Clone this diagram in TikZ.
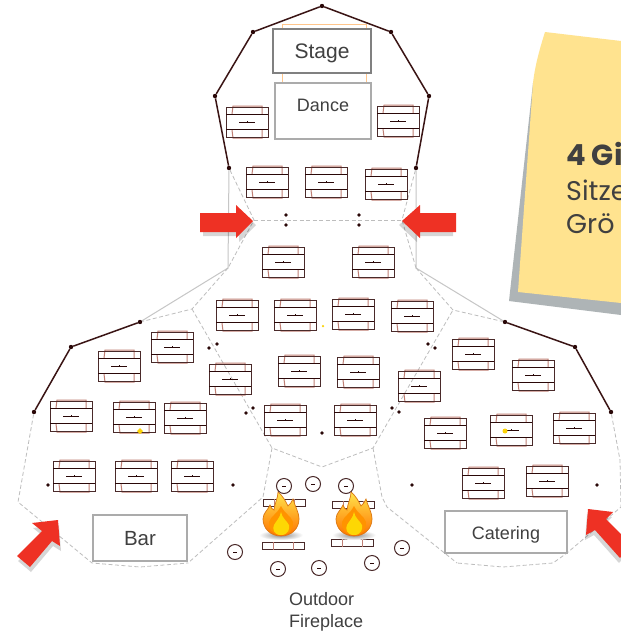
\documentclass[tikz,border=0pt]{standalone}
\usepackage{fontspec}
\setmainfont{Liberation Sans}
\newfontfamily\notefont{Poppins}
\definecolor{wallgrey}{HTML}{C6C6C6}
\definecolor{dashgrey}{HTML}{BDBDBD}
\definecolor{walldark}{HTML}{3A1414}
\definecolor{tableline}{HTML}{4A2A2A}
\definecolor{tablethick}{HTML}{2A0808}
\definecolor{chairline}{HTML}{BF7F74}
\definecolor{arrowred}{HTML}{EE3124}
\definecolor{notey}{HTML}{FFE38F}
\definecolor{noteg}{HTML}{AEB4B6}
\definecolor{labeltext}{HTML}{404040}
\definecolor{boxgrey}{HTML}{ABABAB}
\tikzset{
  wallsolid/.style={draw=wallgrey,line width=1pt},
  walldash/.style={draw=dashgrey,line width=.8pt,dash pattern=on 4pt off 2.5pt},
  wallblack/.style={draw=walldark,line width=1.5pt},
  postdot/.style={circle,fill=tablethick,inner sep=0pt,minimum size=4.4pt},
  stool/.style={circle,draw=tableline,fill=white,line width=1pt,inner sep=0pt,minimum size=15pt},
  bench/.style={rectangle,draw=tableline,fill=white,line width=1pt,inner sep=0pt,minimum width=42pt,minimum height=7pt},
  labelbox/.style={rectangle,draw=boxgrey,fill=white,line width=1.3pt,inner sep=0pt,text=labeltext},
  bigarrow/.style={fill=arrowred,draw=none},
  arrowshade/.style={fill=black,opacity=.16,draw=none},
  banquet/.pic={
    \draw[chairline,line width=1pt] (-15,-8) -- (-14,-16) -- (15,-16) -- (15,-8);
    \draw[chairline,line width=1pt] (-15,8) -- (-14,16) -- (15,16) -- (15,8);
    \draw[tableline,line width=1pt] (-21,-15) rectangle (21,15);
    \draw[tablethick,line width=1.7pt] (-21,-7.5) -- (21,-7.5) (-21,7.5) -- (21,7.5);
    \draw[tablethick,line width=.8pt] (-8,0) -- (8,0) (0,0) -- (0,-1.4);
  },
  campfire/.pic={
    \shade[inner color=black!45,outer color=white] (0,-1) ellipse (22 and 5);
    \draw[draw=black!10!orange!70!brown,line width=.7pt,top color=orange!30!yellow!70!white,bottom color=orange!90!red]
      (0,0) .. controls (-11,0) and (-18,-8) .. (-18,-17)
      .. controls (-18,-23) and (-13,-26) .. (-11,-31)
      .. controls (-10,-28) and (-9,-27) .. (-7,-26)
      .. controls (-6,-34) and (-3,-38) .. (-3,-44)
      .. controls (2,-40) and (5,-34) .. (7,-30)
      .. controls (9,-32) and (11,-34) .. (12,-37)
      .. controls (13,-32) and (18,-24) .. (18,-17)
      .. controls (18,-8) and (11,0) .. (0,0) -- cycle;
    \fill[orange!85!yellow] (0,-1) .. controls (-9,-1) and (-13,-8) .. (-12,-14)
      .. controls (-10,-20) and (-4,-22) .. (0,-30)
      .. controls (4,-22) and (10,-20) .. (12,-14)
      .. controls (13,-8) and (9,-1) .. (0,-1) -- cycle;
    \fill[yellow!75!orange] (0,-1) .. controls (-7,-1) and (-9,-7) .. (-7,-11)
      .. controls (-5,-15) and (-1,-18) .. (0,-24)
      .. controls (1,-18) and (6,-15) .. (8,-11)
      .. controls (9,-7) and (7,-1) .. (0,-1) -- cycle;
  },
}
\begin{document}
\begin{tikzpicture}[x=1pt,y=-1pt]
\useasboundingbox (0,0) rectangle (621,632);
\clip (0,0) rectangle (621,632);
\fill[white] (0,0) rectangle (621,632);

% sticky note
\fill[noteg] (533,83) -- (509,301) -- (621,315) -- (621,200) -- cycle;
\fill[notey] (545,32) .. controls (540,48) and (535,65) .. (533,83) -- (518,292) -- (621,303) -- (621,41) -- cycle;
\node[anchor=base west,inner sep=0pt,text=labeltext,font=\notefont\bfseries\fontsize{29}{29}\selectfont] (notea) at (566,165) {4 Gi};
\node[anchor=base west,inner sep=0pt,text=labeltext,font=\notefont\fontsize{27}{27}\selectfont] (noteb) at (566,200) {Sitze};
\node[anchor=base west,inner sep=0pt,text=labeltext,font=\notefont\fontsize{27}{27}\selectfont] (notec) at (566,233) {Grö};

% outline points
\foreach \n/\x/\y in {a/229/168,b/215/96,c/253/32,d/322/6,e/391/32,f/429/96,g/416/168,
  h/71/347,i/34/412,j/140/322,k/505/322,l/575/347,m/611/412}
  {\node[postdot] (\n) at (\x,\y) {};}
\foreach \n/\x/\y in {wa/228/268,wb/416/268,wc/254/220,wd/402/220,we/192/309,wf/453/310,
  wg/272/448,wh/322/467,wi/373/448,wj/263/497,wl/382/497,wm/387/507,
  bl1/18/502,bl2/92/563,bl3/140/567,bl4/188/563,
  br1/620/460,br2/621/507,br3/567/553,br4/553/563,br5/503/567,br6/457/563}
  {\coordinate (\n) at (\x,\y);}

% walls
\draw[wallsolid] (a) -- (wa) -- (j);
\draw[wallsolid] (g) -- (wb) -- (k);
\draw[walldash] (a) -- (wc) -- (wa);
\draw[walldash] (g) -- (wd) -- (wb);
\draw[walldash] (wc) -- (wd);
\draw[walldash] (wa) -- (we) -- (j);
\draw[walldash] (wb) -- (wf) -- (k);
\draw[walldash] (we) -- (wg) -- (wh) -- (wi) -- (wf);
\draw[walldash] (wg) -- (wj) -- (bl4);
\draw[walldash] (wi) -- (wl) -- (wm) -- (br6);
\draw[walldash] (i) -- (bl1) -- (bl2) -- (bl3) -- (bl4);
\draw[walldash] (m) -- (br1) -- (br2) -- (br3) -- (br4) -- (br5) -- (br6);
\draw[wallblack] (a) -- (b) -- (c) -- (d) -- (e) -- (f) -- (g);
\draw[wallblack] (j) -- (h) -- (i);
\draw[wallblack] (k) -- (l) -- (m);

% loose posts
\foreach \x/\y [count=\i] in {286/215,286/225,359/215,359/225,217/344,209/348,246/413,253/408,
  48/485,233/485,412/485,597/485,428/344,435/348,392/408,399/412,322/433}
  {\node[postdot,minimum size=3.6pt] (post\i) at (\x,\y) {};}

% stage and dance floor
\draw[draw=orange!45!white,line width=1pt] (282,24) rectangle (366,82);
\node[labelbox,draw=gray,minimum width=98pt,minimum height=44pt] (stage) at (322,51) {};
\node[text=labeltext,inner sep=0pt,font=\fontsize{21}{21}\selectfont] (stagetext) at (322,53) {Stage};
\node[labelbox,minimum width=96pt,minimum height=56pt] (dancebox) at (323,111) {};
\node[text=labeltext,inner sep=0pt,font=\fontsize{18}{18}\selectfont] (dance) at (323,105) {Dance};
\node[labelbox,minimum width=94pt,minimum height=46pt] (bar) at (140,538) {};
\node[text=labeltext,inner sep=0pt,font=\fontsize{20.5}{20.5}\selectfont] (bartext) at (140,539) {Bar};
\node[labelbox,minimum width=122pt,minimum height=42pt] (catering) at (506,532) {};
\node[text=labeltext,inner sep=0pt,font=\fontsize{18}{18}\selectfont] (cateringtext) at (506,535) {Catering};

% tables
\foreach \x/\y [count=\i] in {247/122,398/121,267/182,326/182,386/184,
  283/262,373/262,237/315,295/315,353/314,412/316,
  119/366,172/347,230/379,71/416,134/417,185/418,74/476,136/476,192/476,
  299/371,358/372,285/420,355/420,
  473/354,533/375,419/386,445/433,511/430,574/428,483/483,547/481}
  {\pic (tbl\i) at (\x,\y) {banquet};}

% yellow marks
\fill[yellow!70!orange] (140,428) -- (143,431) -- (140,434) -- (137,431) -- cycle;
\node[circle,fill=yellow!70!orange,inner sep=0pt,minimum size=5pt] (markb) at (505,431) {};
\node[circle,fill=yellow!70!orange,inner sep=0pt,minimum size=2.5pt] (markc) at (323,326) {};

% fireplace
\foreach \x/\y [count=\i] in {284/486,313/484,346/486,235/552,278/569,319/568,372/563,402/548}
  {\node[stool] (st\i) at (\x,\y) {};
   \draw[tablethick,line width=.8pt] ([xshift=-2pt]st\i.center) -- ([xshift=2pt]st\i.center);}
\foreach \x/\y [count=\i] in {284/503,353/505,283/546,352/543}
  {\node[bench] (be\i) at (\x,\y) {};
   \draw[chairline,line width=.8pt] ([xshift=-10pt]be\i.north) -- ([xshift=-10pt]be\i.south) ([xshift=10pt]be\i.north) -- ([xshift=10pt]be\i.south);}
\pic (fireA) at (281,536) {campfire};
\pic (fireB) at (354,536) {campfire};
\node[anchor=north west,align=left,text=labeltext,inner sep=0pt,font=\fontsize{18}{22}\selectfont] (fire) at (289,592.5) {Outdoor\\Fireplace};

% red arrows
\fill[arrowshade,shift={(3,4)}] (200,213) -- (236,213) -- (236,205) -- (253,221) -- (236,238) -- (236,232) -- (200,232) -- cycle;
\fill[arrowshade,shift={(-3,4)}] (456,213) -- (420,213) -- (420,205) -- (402,221) -- (420,238) -- (420,232) -- (456,232) -- cycle;
\fill[arrowshade,shift={(1,5)}] (58,520) -- (32,523) -- (42,531) -- (17,556) -- (30,567) -- (52,541) -- (60,546) -- cycle;
\fill[arrowshade,shift={(-1,5)}] (588,509) -- (613,512) -- (606,519) -- (632,545) -- (620,558) -- (595,530) -- (586,535) -- cycle;
\fill[bigarrow] (200,213) -- (236,213) -- (236,205) -- (253,221) -- (236,238) -- (236,232) -- (200,232) -- cycle;
\fill[bigarrow] (456,213) -- (420,213) -- (420,205) -- (402,221) -- (420,238) -- (420,232) -- (456,232) -- cycle;
\fill[bigarrow] (58,520) -- (32,523) -- (42,531) -- (17,556) -- (30,567) -- (52,541) -- (60,546) -- cycle;
\fill[bigarrow] (588,509) -- (613,512) -- (606,519) -- (632,545) -- (620,558) -- (595,530) -- (586,535) -- cycle;
\end{tikzpicture}
\end{document}
